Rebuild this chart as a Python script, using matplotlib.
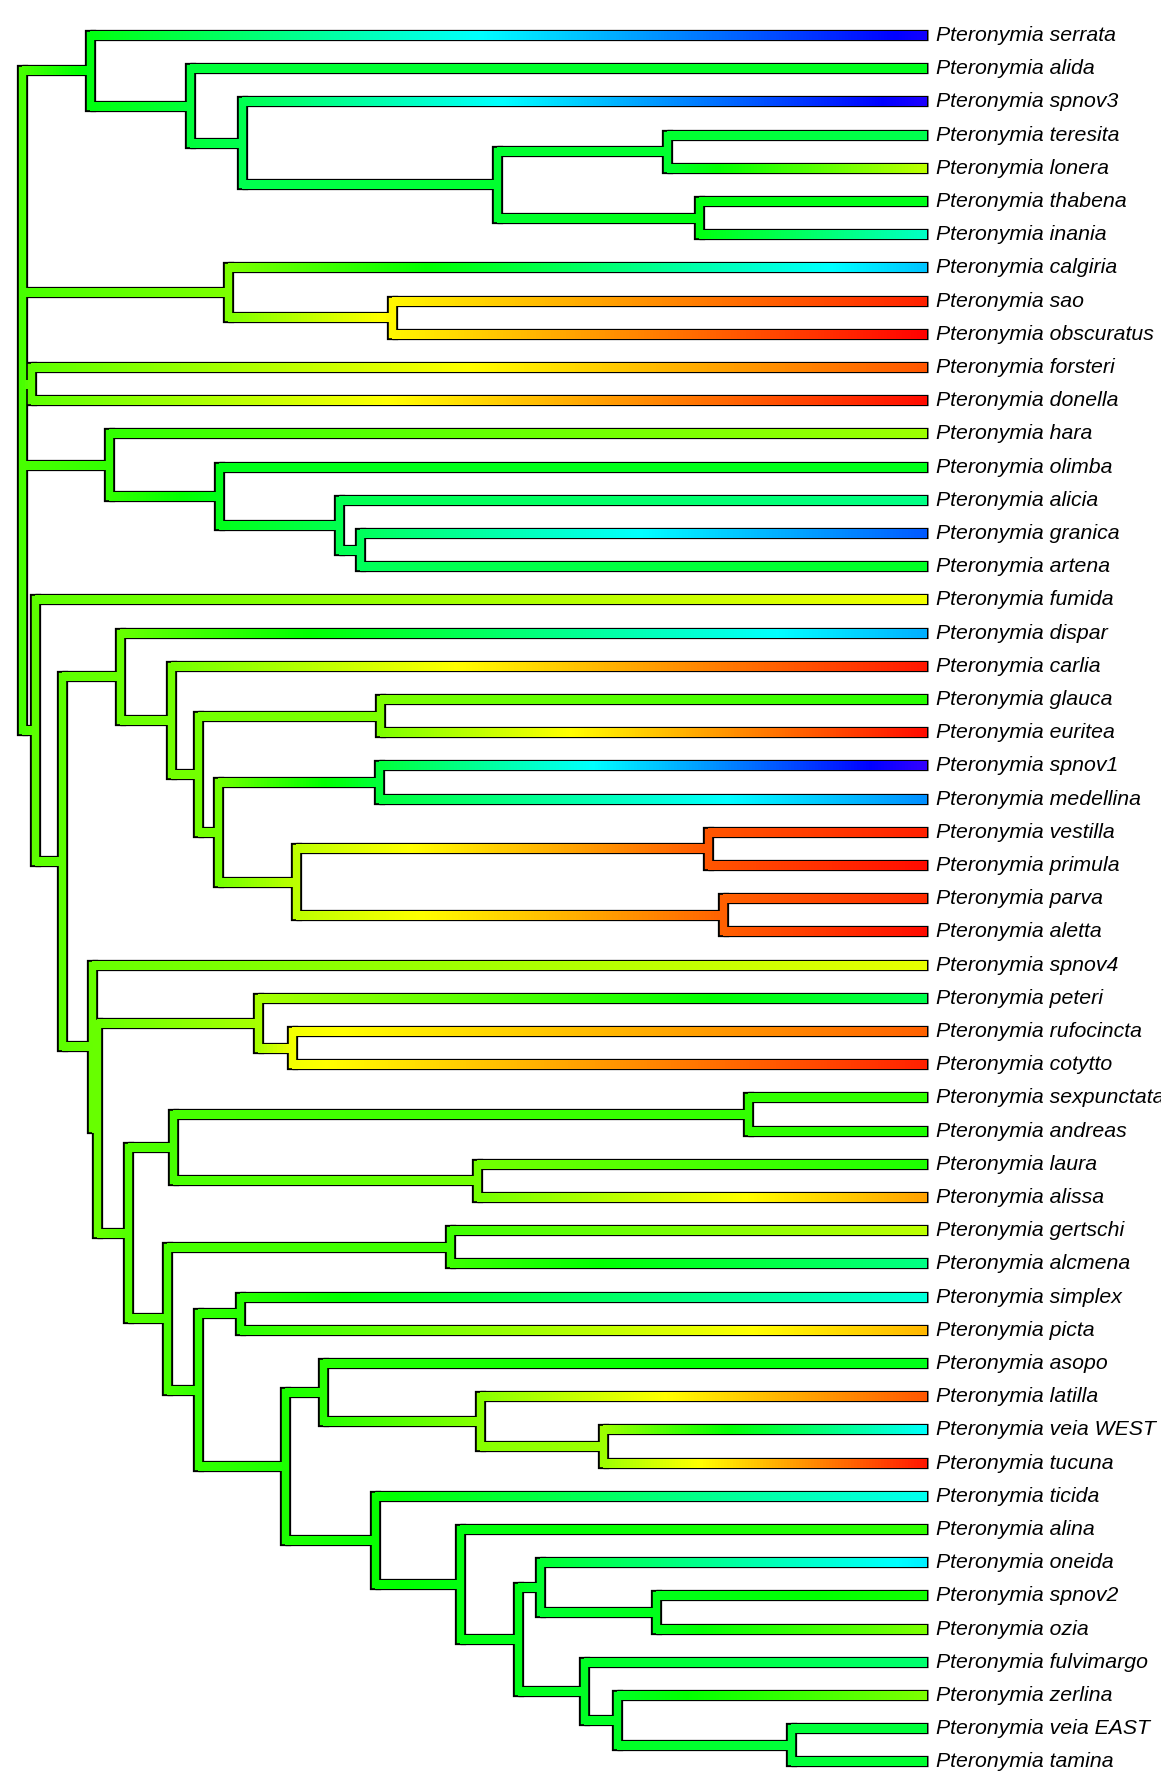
import numpy as np
import matplotlib
matplotlib.use("Agg")
import matplotlib.pyplot as plt
from matplotlib.collections import LineCollection
from matplotlib.colors import hsv_to_rgb

genus = "Pteronymia"

# topology (internal nodes labelled)
newick = ("((serrata,(alida,(spnov3,((teresita,lonera)E,(thabena,inania)F)D)C)B)A,"
          "(calgiria,(sao,obscuratus)so)calg,"
          "(forsteri,donella)fd,"
          "(hara,(olimba,(alicia,(granica,artena)ga)an)on)hn,"
          "(fumida,((dispar,(carlia,((glauca,euritea)L,((spnov1,medellina)N,"
          "((vestilla,primula)P,(parva,aletta)Q)O)M)K)J)H,"
          "(spnov4,((peteri,(rufocincta,cotytto)rc)pn,"
          "(((sexpunctata,andreas)sa,(laura,alissa)la)U,"
          "((gertschi,alcmena)gc,((simplex,picta)X,"
          "((asopo,(latilla,(veia_WEST,tucuna)Z3)Z2)Z,"
          "(ticida,(alina,((oneida,(spnov2,ozia)T5)T4,"
          "(fulvimargo,(zerlina,(veia_EAST,tamina)T8)T7)T6)T3)T2)T)Y)W)V)S)R)I)G)fn)root;")

# node heights from the root (tips at tree_height)
tree_height = 904
node_depth = {
    "root": 0, "A": 68, "B": 168, "C": 220, "D": 475, "E": 645, "F": 677,
    "calg": 206, "so": 370, "fd": 9,
    "hn": 87, "on": 197, "an": 317, "ga": 338,
    "fn": 13, "G": 40, "H": 98, "J": 149, "K": 176, "L": 358, "M": 196,
    "N": 357, "O": 274, "P": 686, "Q": 701,
    "I": 70, "R": 75, "pn": 236, "rc": 270,
    "S": 106, "U": 151, "sa": 726, "la": 455,
    "V": 145, "gc": 428, "W": 176, "X": 218, "Y": 263,
    "Z": 301, "Z2": 458, "Z3": 581,
    "T": 353, "T2": 438, "T3": 496, "T4": 518, "T5": 634,
    "T6": 562, "T7": 595, "T8": 769,
}

# reconstructed trait (position on the colour scale, 0 = red, 1 = blue)
node_value = {
    "root": 0.41, "A": 0.49, "B": 0.53, "C": 0.55, "D": 0.52, "E": 0.52, "F": 0.49,
    "calg": 0.36, "so": 0.23, "fd": 0.39,
    "hn": 0.43, "on": 0.50, "an": 0.55, "ga": 0.56,
    "fn": 0.39, "G": 0.39, "H": 0.38, "J": 0.37, "K": 0.37, "L": 0.36, "M": 0.37,
    "N": 0.53, "O": 0.30, "P": 0.08, "Q": 0.09,
    "I": 0.38, "R": 0.38, "pn": 0.32, "rc": 0.25,
    "S": 0.40, "U": 0.41, "sa": 0.43, "la": 0.37,
    "V": 0.41, "gc": 0.42, "W": 0.43, "X": 0.44, "Y": 0.45,
    "Z": 0.44, "Z2": 0.35, "Z3": 0.33,
    "T": 0.47, "T2": 0.49, "T3": 0.50, "T4": 0.52, "T5": 0.50,
    "T6": 0.51, "T7": 0.51, "T8": 0.53,
}

tip_value = {
    "serrata": 0.97, "alida": 0.50, "spnov3": 0.98, "teresita": 0.55, "lonera": 0.30,
    "thabena": 0.50, "inania": 0.66, "calgiria": 0.77, "sao": 0.03, "obscuratus": 0.0,
    "forsteri": 0.08, "donella": 0.01, "hara": 0.33, "olimba": 0.50, "alicia": 0.60,
    "granica": 0.87, "artena": 0.51, "fumida": 0.25, "dispar": 0.79, "carlia": 0.02,
    "glauca": 0.44, "euritea": 0.01, "spnov1": 1.0, "medellina": 0.82, "vestilla": 0.03,
    "primula": 0.01, "parva": 0.04, "aletta": 0.01, "spnov4": 0.26, "peteri": 0.55,
    "rufocincta": 0.09, "cotytto": 0.03, "sexpunctata": 0.43, "andreas": 0.45,
    "laura": 0.45, "alissa": 0.15, "gertschi": 0.30, "alcmena": 0.60, "simplex": 0.68,
    "picta": 0.17, "asopo": 0.50, "latilla": 0.08, "veia_WEST": 0.71, "tucuna": 0.02,
    "ticida": 0.70, "alina": 0.43, "oneida": 0.73, "spnov2": 0.46, "ozia": 0.36,
    "fulvimargo": 0.58, "zerlina": 0.36, "veia_EAST": 0.53, "tamina": 0.52,
}


def parse(s):
    pos = 0

    def node():
        nonlocal pos
        kids = []
        if s[pos] == "(":
            pos += 1
            while True:
                kids.append(node())
                if s[pos] == ",":
                    pos += 1
                else:
                    break
            pos += 1
        start = pos
        while s[pos] not in ",();":
            pos += 1
        return (s[start:pos], kids)

    return node()


def colour(v):
    v = np.clip(np.asarray(v, dtype=float), 0, 1)
    hsv = np.stack([0.7 * v, np.ones_like(v), np.ones_like(v)], axis=-1)
    return hsv_to_rgb(hsv)


tree = parse(newick)

ys = {}
tips = []


def layout(nd):
    name, kids = nd
    if not kids:
        ys[name] = len(tips)
        tips.append(name)
        return
    for k in kids:
        layout(k)
    ys[name] = (ys[kids[0][0]] + ys[kids[-1][0]]) / 2


layout(tree)


def depth(name):
    return node_depth.get(name, tree_height)


def value(name):
    return node_value[name] if name in node_value else tip_value[name]


h_black, v_black = [], []
v_col, v_cols = [], []
g_segs, g_vals = [], []


def walk(nd):
    name, kids = nd
    if not kids:
        return
    x0 = depth(name)
    v_black.append([(x0, ys[kids[0][0]]), (x0, ys[kids[-1][0]])])
    v_col.append([(x0, ys[kids[0][0]]), (x0, ys[kids[-1][0]])])
    v_cols.append(value(name))
    for k in kids:
        kn = k[0]
        x1 = depth(kn)
        y = ys[kn]
        end = x1 + (2 if not k[1] else 0)
        h_black.append([(x0, y), (end, y)])
        # colour changes linearly along the branch
        n = max(int((x1 - x0) / 3), 1)
        edges = np.linspace(x0, x1, n + 1)
        for a, b in zip(edges[:-1], edges[1:]):
            t = ((a + b) / 2 - x0) / max(x1 - x0, 1e-9)
            g_segs.append([(a, y), (min(b + 1.0, x1), y)])
            g_vals.append(value(name) + t * (value(kn) - value(name)))
        walk(k)


walk(tree)

fig = plt.figure(figsize=(11.61, 17.72), dpi=100)
ax = fig.add_axes([0, 0, 1, 1])
ax.set_xlim(-22, 1139)
ax.set_ylim(52.32, -1.054)
ax.axis("off")

black_lw = 8.1
col_lw = 5.3
ax.add_collection(LineCollection(v_black, colors="black", linewidths=black_lw,
                                 capstyle="projecting"))
ax.add_collection(LineCollection(h_black, colors="black", linewidths=black_lw,
                                 capstyle="butt"))
ax.add_collection(LineCollection(v_col, colors=colour(v_cols), linewidths=col_lw,
                                 capstyle="projecting"))
ax.add_collection(LineCollection(g_segs, colors=colour(g_vals), linewidths=col_lw,
                                 capstyle="butt", antialiaseds=False))

for name in tips:
    ax.text(tree_height + 10, ys[name] + 0.18, f"{genus} {name.replace('_', ' ')}",
            fontsize=15.3, style="italic", family="Liberation Sans",
            va="baseline", ha="left")

fig.savefig("out.png", dpi=100)
